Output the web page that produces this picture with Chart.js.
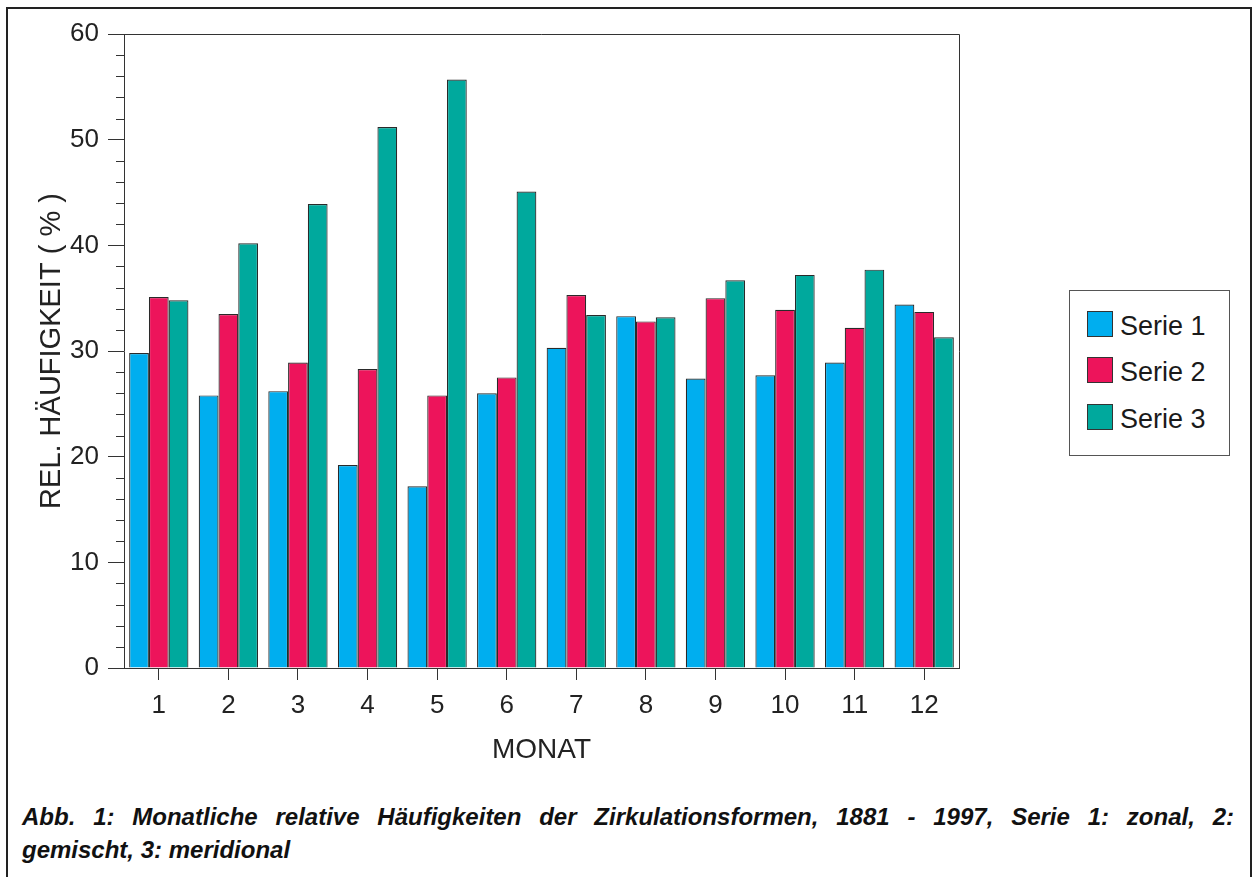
<!DOCTYPE html>
<html>
<head>
<meta charset="utf-8">
<script src="https://cdn.jsdelivr.net/npm/chart.js@4.4.1/dist/chart.umd.min.js"></script>
<style>
    body {
        margin: 0;
        background: #fff;
        width: 1255px;
        height: 877px;
        overflow: hidden;
        position: relative;
        font-family: "Liberation Sans", Arial, sans-serif;
        color: #1a1a1a;
    }
    #frame {
        position: absolute;
        left: 6px;
        top: 7px;
        width: 1246px;
        height: 900px;
        border: 2px solid #222;
        box-sizing: border-box;
    }
    #chart {
        position: absolute;
        left: 0;
        top: 0;
    }
    #legend {
        position: absolute;
        left: 1069px;
        top: 290px;
        width: 161px;
        height: 166px;
        border: 1px solid #555;
        box-sizing: border-box;
    }
    .legend-item {
        position: absolute;
        left: 17px;
        height: 26px;
        display: flex;
        align-items: center;
        font-size: 27px;
        white-space: nowrap;
    }
    .legend-item span {
        position: relative;
        top: 2px;
    }
    .swatch {
        width: 26px;
        height: 26px;
        box-sizing: border-box;
        border: 1px solid #333;
        margin-right: 7px;
    }
    #caption {
        position: absolute;
        left: 22px;
        top: 800px;
        width: 1212px;
        font: italic bold 24px/33px "Liberation Sans", Arial, sans-serif;
        color: #111;
    }
    #caption .line1 {
        text-align: justify;
        text-align-last: justify;
    }
</style>
</head>
<body>
<div id="frame"></div>
<canvas id="chart" width="1000" height="790"></canvas>
<div id="legend"></div>
<div id="caption">
    <div class="line1">Abb. 1: Monatliche relative Häufigkeiten der Zirkulationsformen, 1881 - 1997, Serie 1: zonal, 2:</div>
    <div>gemischt, 3: meridional</div>
</div>
<script>
// Data
const months = ['1', '2', '3', '4', '5', '6', '7', '8', '9', '10', '11', '12'];
const seriesNames = ['Serie 1', 'Serie 2', 'Serie 3'];
const serie1 = [29.8, 25.8, 26.2, 19.2, 17.2, 26.0, 30.3, 33.3, 27.4, 27.7, 28.9, 34.4];
const serie2 = [35.1, 33.5, 28.9, 28.3, 25.8, 27.5, 35.3, 32.8, 35.0, 33.9, 32.2, 33.7];
const serie3 = [34.8, 40.2, 43.9, 51.2, 55.7, 45.1, 33.4, 33.2, 36.7, 37.2, 37.7, 31.3];
const seriesColors = ['#00aeef', '#ed145b', '#00a99d'];
const yMin = 0;
const yMax = 60;
const yMajorStep = 10;
const yMinorStep = 2;

Chart.defaults.font.family = '"Liberation Sans", Arial, sans-serif';
Chart.defaults.color = '#222';

// minor y ticks plus top/right edges of the plot box
const plotFrame = {
    id: 'plotFrame',
    afterDraw(chart) {
        const ctx = chart.ctx;
        const a = chart.chartArea;
        const y = chart.scales.y;
        ctx.save();
        ctx.strokeStyle = '#333';
        ctx.lineWidth = 1;
        ctx.beginPath();
        for (let v = yMin; v <= yMax; v += yMinorStep) {
            if (v % yMajorStep === 0) continue;
            const py = Math.round(y.getPixelForValue(v)) + 0.5;
            ctx.moveTo(a.left - 8, py);
            ctx.lineTo(a.left, py);
        }
        const top = Math.round(a.top) + 0.5;
        const right = Math.round(a.right) + 0.5;
        ctx.moveTo(a.left, top);
        ctx.lineTo(right, top);
        ctx.lineTo(right, Math.round(a.bottom));
        ctx.stroke();
        ctx.restore();
    }
};

const values = [serie1, serie2, serie3];
const chart = new Chart(document.getElementById('chart').getContext('2d'), {
    type: 'bar',
    data: {
        labels: months,
        datasets: seriesNames.map((name, i) => ({
            label: name,
            data: values[i],
            backgroundColor: seriesColors[i],
            borderColor: '#2a2a2a',
            borderWidth: 1.2,
            categoryPercentage: 0.852,
            barPercentage: 1.0
        }))
    },
    options: {
        responsive: false,
        animation: false,
        layout: {
            padding: { top: 34, right: 41, left: 0, bottom: 0 }
        },
        plugins: {
            legend: { display: false },
            tooltip: { enabled: false }
        },
        scales: {
            x: {
                grid: {
                    drawOnChartArea: false,
                    offset: false,
                    tickLength: 12,
                    color: '#333'
                },
                border: { display: true, color: '#333' },
                ticks: {
                    padding: 10,
                    font: { size: 26 },
                    color: '#222'
                },
                title: {
                    display: true,
                    text: 'MONAT',
                    font: { size: 28 },
                    color: '#222',
                    padding: { top: 0, bottom: 23 }
                },
                afterFit(scale) {
                    scale.height = 122;
                }
            },
            y: {
                min: yMin,
                max: yMax,
                ticks: {
                    stepSize: yMajorStep,
                    padding: 9,
                    font: { size: 26 },
                    color: '#222'
                },
                grid: {
                    drawOnChartArea: false,
                    tickLength: 16,
                    color: '#333'
                },
                border: { display: true, color: '#333' },
                title: {
                    display: true,
                    text: 'REL. HÄUFIGKEIT ( % )',
                    font: { size: 29 },
                    color: '#222',
                    padding: { top: 35, bottom: 0 }
                },
                afterFit(scale) {
                    scale.width = 124;
                }
            }
        }
    },
    plugins: [plotFrame]
});

// HTML legend built from the datasets
const legendTops = [20, 66, 113];
document.getElementById('legend').innerHTML = chart.data.datasets.map((ds, i) => `
    <div class="legend-item" style="top:${legendTops[i]}px">
        <div class="swatch" style="background:${ds.backgroundColor}"></div>
        <span>${ds.label}</span>
    </div>
`).join('');
</script>
</body>
</html>
